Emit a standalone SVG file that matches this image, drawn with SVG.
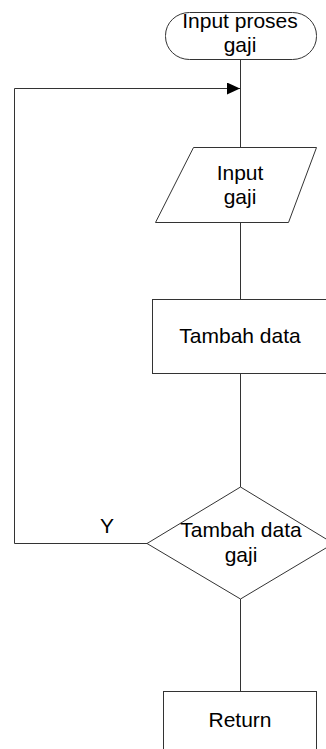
<svg xmlns="http://www.w3.org/2000/svg" width="326" height="749" viewBox="0 0 326 749">
<style>
.s{fill:#fff;stroke:#333;stroke-width:1}
.t{font-family:"Liberation Sans",Arial,sans-serif;font-size:21px;fill:#000;text-anchor:middle}
.c{fill:none;stroke:#333;stroke-width:1}
</style>
<defs>
<marker id="ah" markerWidth="13" markerHeight="12" refX="13" refY="6" orient="auto" markerUnits="userSpaceOnUse">
<path d="M0,0 L13,6 L0,12 Z" fill="#000"/>
</marker>
</defs>
<g id="connectors">
<path class="c" d="M240.5,59 V147"/>
<path class="c" d="M240.5,222 V299"/>
<path class="c" d="M240.5,373 V487"/>
<path class="c" d="M240.5,599 V691"/>
<path class="c" d="M147,543.5 H14.5 V88.5 H240" marker-end="url(#ah)"/>
<text class="t" x="107" y="533">Y</text>
</g>
<g id="start">
<rect class="s" x="165.5" y="12.5" width="151" height="47" rx="24" ry="23"/>
<text class="t" x="240" y="28">Input proses</text>
<text class="t" x="240" y="52">gaji</text>
</g>
<g id="input">
<path class="s" d="M193.5,147.5 H316.5 L288.5,222.5 H155.5 Z"/>
<text class="t" x="240" y="180">Input</text>
<text class="t" x="240" y="204">gaji</text>
</g>
<g id="process">
<rect class="s" x="152.5" y="299.5" width="180" height="74"/>
<text class="t" x="240" y="343">Tambah data</text>
</g>
<g id="decision">
<path class="s" d="M240.5,487 L333.5,543.5 L240.5,599 L147,543.5 Z"/>
<text class="t" x="241" y="537">Tambah data</text>
<text class="t" x="241" y="562">gaji</text>
</g>
<g id="return">
<rect class="s" x="163.5" y="691.5" width="153" height="70"/>
<text class="t" x="240" y="727">Return</text>
</g>
</svg>
